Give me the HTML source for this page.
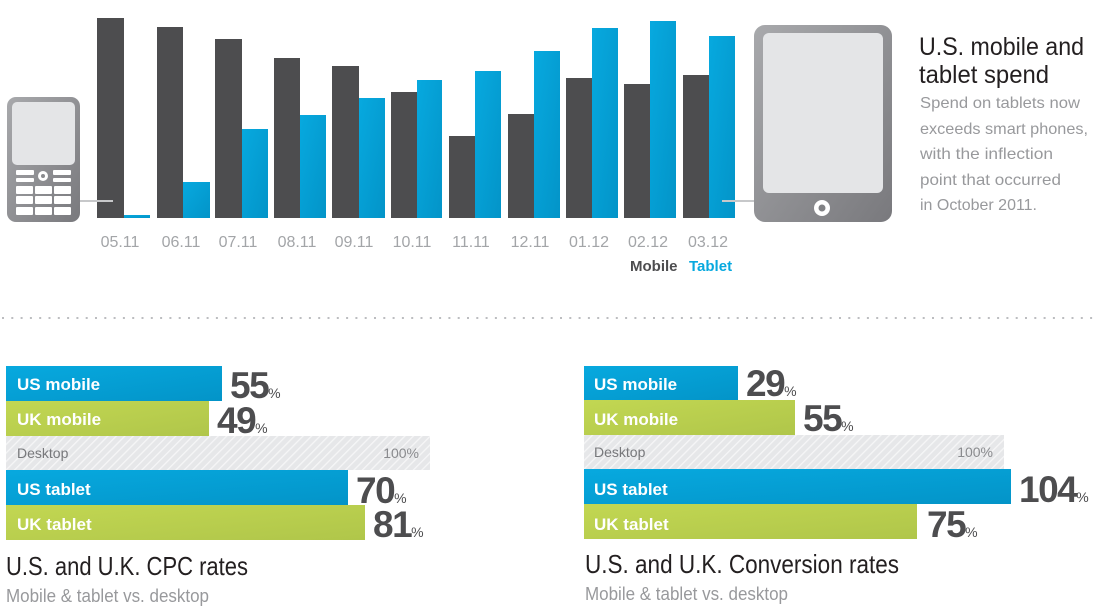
<!DOCTYPE html>
<html><head><meta charset="utf-8"><style>
html,body{margin:0;padding:0;background:#fff;}
svg{display:block;font-family:"Liberation Sans",sans-serif;}
</style></head><body>
<svg width="1096" height="610" viewBox="0 0 1096 610" xmlns="http://www.w3.org/2000/svg">
<defs>
<linearGradient id="bl" x1="0" y1="0" x2="1" y2="1"><stop offset="0" stop-color="#07a9df"/><stop offset="1" stop-color="#0394c8"/></linearGradient>
<linearGradient id="gr" x1="0" y1="0" x2="1" y2="1"><stop offset="0" stop-color="#c2d752"/><stop offset="1" stop-color="#b0c64a"/></linearGradient>
<linearGradient id="dev" x1="0" y1="0" x2="1" y2="1"><stop offset="0" stop-color="#a8a9ac"/><stop offset="1" stop-color="#79797d"/></linearGradient>
<pattern id="hatch" width="6" height="6" patternUnits="userSpaceOnUse" patternTransform="rotate(45)"><rect width="6" height="6" fill="#e6e7e9"/><rect width="1.3" height="6" fill="#f6f6f7"/></pattern>
</defs>
<g fill="#4d4d4f">
<rect x="97" y="18" width="27" height="200"/><rect x="157" y="27" width="26" height="191"/><rect x="215" y="39" width="27" height="179"/><rect x="274" y="58" width="26" height="160"/><rect x="332" y="66" width="27" height="152"/><rect x="391" y="92" width="26" height="126"/><rect x="449" y="136" width="26" height="82"/><rect x="508" y="114" width="26" height="104"/><rect x="566" y="78" width="26" height="140"/><rect x="624" y="84" width="26" height="134"/><rect x="683" y="75" width="26" height="143"/>
</g>
<g fill="url(#bl)">
<rect x="124" y="215" width="26" height="3"/><rect x="183" y="182" width="27" height="36"/><rect x="242" y="129" width="26" height="89"/><rect x="300" y="115" width="26" height="103"/><rect x="359" y="98" width="26" height="120"/><rect x="417" y="80" width="25" height="138"/><rect x="475" y="71" width="26" height="147"/><rect x="534" y="51" width="26" height="167"/><rect x="592" y="28" width="26" height="190"/><rect x="650" y="21" width="26" height="197"/><rect x="709" y="36" width="26" height="182"/>
</g>
<g fill="#a3a5a8" font-size="16" text-anchor="middle">
<text x="120" y="247">05.11</text><text x="181" y="247">06.11</text><text x="238" y="247">07.11</text><text x="297" y="247">08.11</text><text x="354" y="247">09.11</text><text x="412" y="247">10.11</text><text x="471" y="247">11.11</text><text x="530" y="247">12.11</text><text x="589" y="247">01.12</text><text x="648" y="247">02.12</text><text x="708" y="247">03.12</text>
</g>
<text x="630" y="271" font-size="15" font-weight="bold" fill="#4d4d4f">Mobile</text>
<text x="689" y="271" font-size="15" font-weight="bold" fill="#07a9df">Tablet</text>
<rect x="7" y="97" width="73" height="125" rx="9" fill="url(#dev)"/>
<rect x="12" y="102" width="63" height="63" rx="5" fill="#e4e5e7"/>
<g fill="#fff">
<rect x="16" y="170" width="18" height="5" rx="1"/><rect x="16" y="178" width="18" height="4" rx="1"/><rect x="53" y="170" width="18" height="5" rx="1"/><rect x="53" y="178" width="18" height="4" rx="1"/>
<circle cx="43" cy="176" r="5"/>
<rect x="16" y="186" width="17" height="8" rx="1"/><rect x="35" y="186" width="17" height="8" rx="1"/><rect x="54" y="186" width="17" height="8" rx="1"/>
<rect x="16" y="196" width="17" height="8" rx="1"/><rect x="35" y="196" width="17" height="8" rx="1"/><rect x="54" y="196" width="17" height="8" rx="1"/>
<rect x="16" y="207" width="17" height="8" rx="1"/><rect x="35" y="207" width="17" height="8" rx="1"/><rect x="54" y="207" width="17" height="8" rx="1"/>
</g>
<circle cx="43" cy="176" r="2" fill="#8a8b8e"/>
<rect x="80" y="200" width="33" height="2" fill="#c7c8ca"/>
<rect x="754" y="25" width="138" height="197" rx="11" fill="url(#dev)"/>
<rect x="763" y="33" width="120" height="160" rx="6" fill="#e4e5e7"/>
<circle cx="822" cy="208" r="8" fill="#fff"/><circle cx="822" cy="208" r="3.5" fill="#808184"/>
<rect x="722" y="200" width="32" height="2" fill="#c7c8ca"/>
<text x="919" y="55" font-size="25" fill="#231f20" textLength="165" lengthAdjust="spacingAndGlyphs">U.S. mobile and</text>
<text x="919" y="83" font-size="25" fill="#231f20" textLength="130" lengthAdjust="spacingAndGlyphs">tablet spend</text>
<g font-size="16" fill="#98999c">
<text x="920" y="108" textLength="160" lengthAdjust="spacingAndGlyphs">Spend on tablets now</text><text x="920" y="134" textLength="168" lengthAdjust="spacingAndGlyphs">exceeds smart phones,</text><text x="920" y="159" textLength="133" lengthAdjust="spacingAndGlyphs">with the inflection</text><text x="920" y="185" textLength="141" lengthAdjust="spacingAndGlyphs">point that occurred</text><text x="920" y="210" textLength="117" lengthAdjust="spacingAndGlyphs">in October 2011.</text>
</g>
<line x1="2" y1="318" x2="1096" y2="318" stroke="#bcbdc0" stroke-width="2" stroke-dasharray="2,7.3"/>
<rect x="6" y="366" width="216" height="35" fill="url(#bl)"/>
<rect x="6" y="401" width="203" height="35" fill="url(#gr)"/>
<rect x="6" y="436" width="424" height="34" fill="url(#hatch)"/>
<rect x="6" y="470" width="342" height="35" fill="url(#bl)"/>
<rect x="6" y="505" width="359" height="35" fill="url(#gr)"/>
<g fill="#fff" font-size="17" font-weight="bold">
<text x="17" y="390">US mobile</text><text x="17" y="425">UK mobile</text><text x="17" y="495">US tablet</text><text x="17" y="530">UK tablet</text>
</g>
<text x="17" y="458" font-size="14" fill="#77787b">Desktop</text>
<text x="419" y="458" font-size="14" fill="#8a8b8e" text-anchor="end">100%</text>
<g fill="#4d4d4f" font-weight="bold" font-size="37" letter-spacing="-1.5">
<text x="230" y="398">55<tspan font-size="14" font-weight="normal" letter-spacing="0">%</tspan></text>
<text x="217" y="433">49<tspan font-size="14" font-weight="normal" letter-spacing="0">%</tspan></text>
<text x="356" y="503">70<tspan font-size="14" font-weight="normal" letter-spacing="0">%</tspan></text>
<text x="373" y="537">81<tspan font-size="14" font-weight="normal" letter-spacing="0">%</tspan></text>
</g>
<text x="6" y="575" font-size="26" fill="#231f20" textLength="242" lengthAdjust="spacingAndGlyphs">U.S. and U.K. CPC rates</text>
<text x="6" y="602" font-size="18" fill="#98999c" textLength="203" lengthAdjust="spacingAndGlyphs">Mobile &amp; tablet vs. desktop</text>
<rect x="584" y="366" width="154" height="34" fill="url(#bl)"/>
<rect x="584" y="400" width="211" height="35" fill="url(#gr)"/>
<rect x="584" y="435" width="420" height="34" fill="url(#hatch)"/>
<rect x="584" y="469" width="427" height="35" fill="url(#bl)"/>
<rect x="584" y="504" width="333" height="35" fill="url(#gr)"/>
<g fill="#fff" font-size="17" font-weight="bold">
<text x="594" y="390">US mobile</text><text x="594" y="425">UK mobile</text><text x="594" y="495">US tablet</text><text x="594" y="530">UK tablet</text>
</g>
<text x="594" y="457" font-size="14" fill="#77787b">Desktop</text>
<text x="993" y="457" font-size="14" fill="#8a8b8e" text-anchor="end">100%</text>
<g fill="#4d4d4f" font-weight="bold" font-size="37" letter-spacing="-1.5">
<text x="746" y="396">29<tspan font-size="14" font-weight="normal" letter-spacing="0">%</tspan></text>
<text x="803" y="431">55<tspan font-size="14" font-weight="normal" letter-spacing="0">%</tspan></text>
<text x="1019" y="502">104<tspan font-size="14" font-weight="normal" letter-spacing="0">%</tspan></text>
<text x="927" y="537">75<tspan font-size="14" font-weight="normal" letter-spacing="0">%</tspan></text>
</g>
<text x="585" y="573" font-size="26" fill="#231f20" textLength="314" lengthAdjust="spacingAndGlyphs">U.S. and U.K. Conversion rates</text>
<text x="585" y="600" font-size="18" fill="#98999c" textLength="203" lengthAdjust="spacingAndGlyphs">Mobile &amp; tablet vs. desktop</text>
</svg>
</body></html>
